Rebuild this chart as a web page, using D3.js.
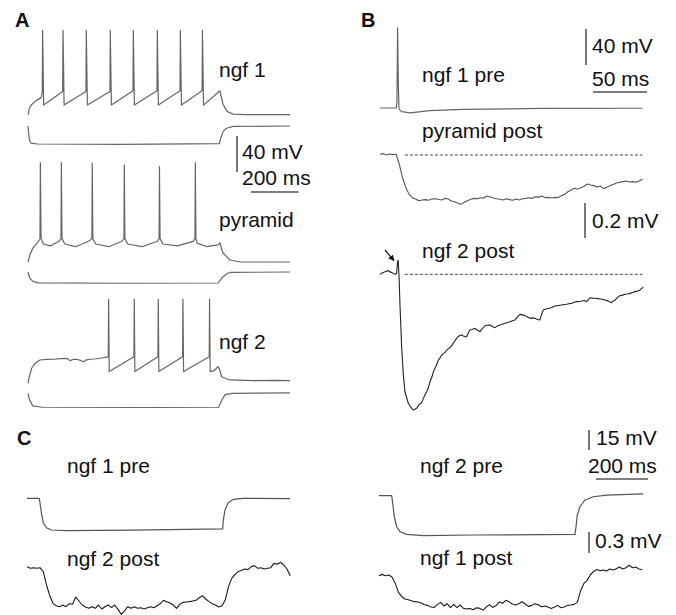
<!DOCTYPE html>
<html>
<head>
<meta charset="utf-8">
<script src="https://cdn.jsdelivr.net/npm/d3@7"></script>
<style>
body { margin: 0; background: #fff; }
svg { display: block; font-family: "Liberation Sans", Arial, sans-serif; }
</style>
</head>
<body>
<svg id="fig" width="676" height="615"></svg>
<script>
// panel A, current steps (t in ms, v in mV)
let ngf1Depol = [[0,-65],[6,-57],[17,-53],[34,-49],[55,-46],
  [60,-40],[61.5,29],[66,-54],[146,-39],[147.5,29],[152,-54],
  [244,-39],[245.5,29],[250,-54],[345,-39],[346.5,29],[351,-54],
  [442,-38],[443.5,29],[448,-54],[543,-38],[544.5,29],[549,-54],
  [640,-38],[641.5,29],[646,-54],[733,-38],[734.5,29],[739,-54],
  [800,-40],[808,-38],[814,-45],[821,-53],[838,-61],[863,-64],[914,-64.5],[1103,-64.5]]
let ngf1Hyper = [[0,-65],[2,-72],[6,-80],[12,-84],[40,-85],[400,-85.5],[806,-84.5],[812,-78],[822,-71],[836,-67.5],[864,-65.5],[1103,-65]]

let pyrDepol = [[0,-70],[8,-62],[21,-54.4],[42,-47.8],[50.5,-44.4],
  [52,40.4],[55,-44],[65,-50],[95,-52],[130,-47],[139,-44],[140.5,40.4],[143,-44],[155,-50],[200,-53],[255,-47],
  [269,-44],[270.5,39.7],[273,-44],[285,-50],[340,-53],[395,-47],[404,-44],[405.5,37.8],[408,-44],[420,-50],[480,-53],[545,-47],
  [552,-44],[553.5,35.9],[556,-44],[568,-50],[630,-52],[695,-47],[703,-44],[704.5,40.4],[707,-44],[712,-49],
  [754,-53],[800,-51],[808,-48.9],[821,-60],[851,-67.8],[893,-70],[1103,-70]]
let pyrHyper = [[0,-70],[8,-77],[21,-80.5],[42,-82],[400,-82.5],[801,-82.2],[815,-77],[837,-72],[851,-70.5],[1103,-70]]

let ngf2Depol = [[0,-70],[5.6,-62.7],[15.4,-53.3],[29.5,-47.8],[50.5,-44.1],[80,-43.5],[106.7,-43.3],[140,-42.5],[163,-42.2],
  [177,-44.8],[190,-43.5],[205,-43.3],[220,-44.5],[233,-46],[247,-44],[261,-43.3],[280,-43],[303,-42.2],[334,-41],
  [338,-40.4],[339.5,23.3],[342,-57],[446,-40.4],[447.5,23.3],[450,-57],[547,-40.4],[548.5,23.3],[551,-57],
  [651,-40.4],[652.5,23.3],[655,-57],[763,-40.4],[764.5,23.3],[767,-57],
  [783,-56],[800,-51.6],[806,-54],[815,-62.7],[850,-66.3],[950,-67],[1050,-66.8],[1103,-67.1]]
let ngf2Hyper = [[0,-70],[6,-77],[20,-84],[60,-85.5],[500,-85.8],[803,-85.5],[815,-78],[830,-71.5],[860,-70],[1103,-69.5]]

let labelsA = ["ngf 1", "pyramid", "ngf 2"]

// panel B, single spike and IPSPs
let ngf1Pre = [[0,-65],[15,-65],[15.7,-60],[16.3,24],[17,-40],[17.6,-66],[20,-69],[28,-70.5],[46,-68],[77,-66.5],[150,-65.5],[243,-65.3]]

// pyramid post, uV, one value every 3 ms
let pyrPostDt = 3
let pyrPost = [4,8,0,6,2,4,-57,-133,-187,-225,
  -244,-251,-261,-257,-255,-259,-251,-250,-253,-257,
  -248,-251,-263,-267,-276,-282,-270,-261,-253,-248,
  -250,-244,-246,-234,-240,-246,-250,-253,-257,-250,
  -255,-259,-251,-257,-250,-248,-244,-248,-238,-242,
  -234,-244,-242,-246,-242,-244,-232,-225,-210,-200,
  -190,-194,-187,-179,-166,-171,-175,-183,-177,-192,
  -185,-175,-168,-160,-156,-152,-149,-154,-152,-156,
  -149,-137]

// ngf 2 post, [ms, uV]
let ngf2Post = [[0,0],[2,8],[4.6,15],[6,18],[7.7,21],[9,14],[10.8,11],[12.5,4],[13.9,0],[15.4,6],[16.2,70],[16.8,80],[17.6,-4],
  [18.5,-175],[20.1,-423],[21.6,-575],[23.1,-671],[26.2,-737],[29.3,-766],[31,-776],[32.4,-770],[34,-765],[35.5,-751],
  [37,-740],[38.5,-735],[40.1,-709],[41.6,-690],[43.2,-671],[44.8,-648],[46.3,-614],[47.9,-590],[49.4,-557],[51,-535],
  [52.5,-515],[54,-490],[55.6,-478],[57.1,-461],[59,-452],[60.5,-445],[61.7,-433],[63.5,-425],[65,-418],[66.4,-408],
  [68,-392],[69.5,-378],[71,-366],[72.5,-355],[74,-350],[75.6,-347],[77,-352],[78.7,-356],[80.2,-357],[81.5,-338],
  [83.3,-318],[85,-315],[86.5,-312],[88,-309],[90,-318],[92.6,-328],[94.5,-312],[97.2,-294],[99,-291],[101.9,-290],
  [104,-298],[106.5,-305],[108.5,-296],[111.1,-290],[113,-286],[115.7,-280],[118,-276],[120.4,-271],[122.5,-266],
  [125,-261],[127,-245],[129.6,-229],[132,-232],[134.3,-236],[136.5,-244],[138.9,-251],[141,-249],[143.5,-251],
  [146,-258],[148.1,-261],[149.5,-230],[151.2,-204],[153.5,-198],[155.9,-195],[159,-190],[162,-181],[165,-178],
  [168.2,-175],[170.5,-173],[172.8,-171],[175,-168],[177.5,-166],[180,-160],[182.1,-156],[184.5,-155],[186.7,-153],
  [189,-150],[191.4,-156],[193,-145],[194.4,-134],[197,-136],[199.1,-137],[201.5,-139],[203.7,-141],[206,-143],
  [208.3,-147],[211,-152],[214.5,-162],[216,-152],[217.6,-147],[220,-132],[222.2,-122],[224.5,-119],[226.9,-114],
  [229,-113],[231.5,-109],[234,-104],[236.1,-99],[238.5,-96],[240.7,-90],[242,-82],[243.8,-74]]

let labelsB = ["ngf 1 pre", "pyramid post", "ngf 2 post"]

// panel C, hyperpolarizing steps and coupled responses
let cN1Pre = [[0,-60],[47.3,-60],[50,-63.5],[56.5,-72.5],[62.7,-78.5],[75.8,-82.3],[95,-83.8],[152.7,-84.3],[407.7,-83.8],
  [752.7,-83],[755,-76.3],[761.5,-68.8],[774,-63.3],[793.5,-60.8],[832,-60],[1011.5,-60.3]]
let cN2Pre = [[0,-60],[48.8,-60],[52.7,-65.7],[58.8,-75.8],[68,-83.3],[80.8,-87],[106.5,-89],[170.4,-90],[362.7,-89.5],
  [753.8,-89],[757.7,-83.3],[762.7,-74.5],[773,-68.3],[792.3,-63.2],[824.2,-60.8],[875.8,-59.5],[1016.5,-58.7]]

// uV, one value every 12.5 ms
let cDt = 12.5
let cN2Post = [5,-19,-10,-19,-10,-67,-257,-410,-519,-553,
  -567,-543,-567,-524,-533,-429,-486,-543,-571,-590,
  -567,-590,-543,-600,-567,-543,-581,-543,-605,-676,
  -628,-567,-590,-567,-590,-581,-600,-581,-567,-581,
  -553,-524,-476,-495,-514,-543,-590,-533,-505,-500,
  -495,-486,-476,-438,-410,-457,-495,-524,-543,-571,
  -553,-471,-281,-162,-105,-67,-48,-29,-38,5,
  19,-19,-10,-29,-19,-10,52,38,67,29,
  -29,-124]
let cN1Post = [0,19,0,10,-19,-110,-238,-300,-333,-343,
  -357,-371,-376,-390,-414,-424,-448,-452,-410,-381,
  -433,-400,-457,-410,-457,-419,-467,-476,-467,-486,
  -457,-467,-491,-448,-414,-452,-429,-376,-395,-352,
  -371,-405,-419,-400,-371,-405,-438,-424,-400,-414,
  -443,-433,-448,-467,-448,-424,-457,-448,-424,-419,
  -410,-381,-219,-114,-67,10,57,90,71,81,
  67,95,81,100,124,95,114,152,114,124,
  95,86]

let labelsC = ["ngf 1 pre", "ngf 2 post", "ngf 2 pre", "ngf 1 post"]

let svg = d3.select("#fig")
svg.append("rect").attr("width", 676).attr("height", 615).attr("fill", "#fff")

function yScale(rest, yRest, pxPer) {
    return d3.scaleLinear().domain([rest, rest + 1]).range([yRest, yRest - pxPer])
}

function trace(data, xs, ys, color, w) {
    let line = d3.line().x(d => xs(d[0])).y(d => ys(d[1]))
    svg.append("path")
        .datum(data)
        .attr("d", line)
        .attr("fill", "none")
        .attr("stroke", color)
        .attr("stroke-width", w)
        .attr("stroke-linejoin", "round")
}

function even(values, dt) {
    return values.map((v, i) => [i * dt, v])
}

function vbar(x, y0, len) {
    len = Math.abs(len)
    svg.append("line").attr("x1", x).attr("x2", x).attr("y1", y0).attr("y2", y0 + len)
        .attr("stroke", "#555").attr("stroke-width", 1.6)
}
function hbar(x0, y, len) {
    svg.append("line").attr("x1", x0).attr("x2", x0 + Math.abs(len)).attr("y1", y).attr("y2", y)
        .attr("stroke", "#555").attr("stroke-width", 1.6)
}
function label(txt, x, y, bold) {
    svg.append("text").attr("x", x).attr("y", y).text(txt)
        .attr("font-size", bold ? 20 : 21)
        .attr("font-weight", bold ? "bold" : "normal")
        .attr("fill", "#111")
}

// ---- A
let xA = d3.scaleLinear().domain([0, 1100]).range([28, 28 + 1100 * 0.2375])
let yN1 = yScale(-65, 115, 0.9)
trace(ngf1Depol, xA, yN1, "#666", 1.2)
trace(ngf1Hyper, xA, yScale(-65, 126, 0.9), "#666", 1.2)
trace(pyrDepol, xA, yScale(-70, 262, 0.9), "#666", 1.2)
trace(pyrHyper, xA, yScale(-70, 272, 0.9), "#666", 1.2)
trace(ngf2Depol, xA, yScale(-70, 383.3, 0.9), "#666", 1.2)
trace(ngf2Hyper, xA, yScale(-70, 393.3, 0.9), "#666", 1.2)

label("A", 15, 27, true)
label(labelsA[0], 219, 77)
label(labelsA[1], 219, 227)
label(labelsA[2], 219, 349)
vbar(237, 136, yN1(-65) - yN1(-25))
hbar(251, 192, xA(200) - xA(0))
label("40 mV", 242, 159)
label("200 ms", 242, 185)

// ---- B
let xB = d3.scaleLinear().domain([0, 243]).range([380, 380 + 243 * 1.08])
let yPreB = yScale(-65, 108, 0.9)
let yPyrPost = yScale(0, 155, 0.175)
let yN2Post = yScale(0, 274.3, 0.175)

trace(ngf1Pre, xB, yPreB, "#666", 1.2)
trace(even(pyrPost, pyrPostDt), xB, yPyrPost, "#555", 1.1)
trace(ngf2Post, xB, yN2Post, "#222", 1.1)

svg.append("line").attr("x1", xB(23)).attr("x2", xB(243)).attr("y1", yPyrPost(0)).attr("y2", yPyrPost(0))
    .attr("stroke", "#444").attr("stroke-width", 1).attr("stroke-dasharray", "3,2")
svg.append("line").attr("x1", xB(23)).attr("x2", xB(243)).attr("y1", yN2Post(0)).attr("y2", yN2Post(0))
    .attr("stroke", "#444").attr("stroke-width", 1).attr("stroke-dasharray", "3,2")

svg.append("defs").append("marker")
    .attr("id", "head").attr("viewBox", "0 0 10 10").attr("refX", 9).attr("refY", 5)
    .attr("markerWidth", 5).attr("markerHeight", 5).attr("orient", "auto")
    .append("path").attr("d", "M0,0L10,5L0,10z").attr("fill", "#111")
svg.append("line").attr("x1", 385).attr("y1", 250).attr("x2", 394).attr("y2", 260.5)
    .attr("stroke", "#111").attr("stroke-width", 1.2).attr("marker-end", "url(#head)")

label("B", 361, 27, true)
label(labelsB[0], 422, 82)
label(labelsB[1], 422, 138)
label(labelsB[2], 422, 258)
vbar(586, 29, yPreB(-65) - yPreB(-25))
label("40 mV", 592, 53)
hbar(593, 92, xB(50) - xB(0))
label("50 ms", 592, 86)
vbar(585, 203, yPyrPost(0) - yPyrPost(-200))
label("0.2 mV", 592, 228)

// ---- C
let xCl = d3.scaleLinear().domain([0, 1000]).range([27, 287])
let xCr = d3.scaleLinear().domain([0, 1000]).range([379, 639])
let yPreL = yScale(-60, 498.3, 1.333)
let yPreR = yScale(-60, 495.7, 1.333)
let yPostL = yScale(0, 567, 0.07)
let yPostR = yScale(0, 575.7, 0.07)

trace(cN1Pre, xCl, yPreL, "#555", 1.2)
trace(even(cN2Post, cDt), xCl, yPostL, "#1a1a1a", 1.1)
trace(cN2Pre, xCr, yPreR, "#555", 1.2)
trace(even(cN1Post, cDt), xCr, yPostR, "#1a1a1a", 1.1)

label("C", 17, 445, true)
label(labelsC[0], 67, 473)
label(labelsC[1], 67, 566)
label(labelsC[2], 420, 473)
label(labelsC[3], 420, 565)
vbar(589, 430, yPreR(-60) - yPreR(-45))
label("15 mV", 596, 445)
hbar(596, 479, xCr(200) - xCr(0))
label("200 ms", 588, 473)
vbar(589, 532, yPostR(0) - yPostR(-300))
label("0.3 mV", 595, 548)
</script>
</body>
</html>
